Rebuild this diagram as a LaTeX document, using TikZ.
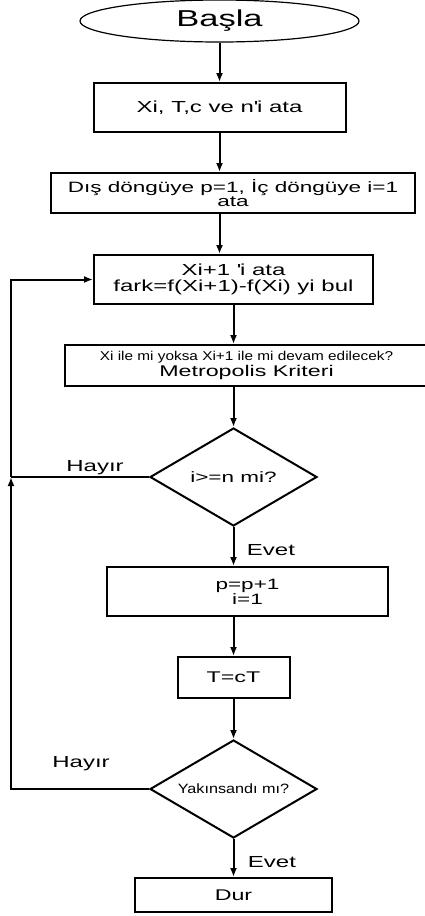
\documentclass[tikz,border=0pt]{standalone}
\usepackage{fontspec}
\setmainfont{Liberation Sans}[FakeStretch=1.5]
\newfontfamily\slimfont{Liberation Sans}[FakeStretch=1.2]
\usetikzlibrary{shapes.geometric}
\usetikzlibrary{arrows.meta}

\tikzset{
  box/.style={draw, line width=2pt, rectangle, inner sep=0pt, align=center},
  test/.style={draw, line width=2pt, diamond, aspect=1.7, inner sep=0pt,
    minimum width=167pt, minimum height=98pt},
  flow/.style={line width=2pt, -{Latex[length=9pt,width=7pt]}},
  answer/.style={font=\fontsize{16}{18}\selectfont},
}

\begin{document}
\begin{tikzpicture}[x=1pt, y=-1pt]
  \useasboundingbox (0,0) rectangle (425,916);

  \node[draw, ellipse, line width=1.2pt, minimum width=279pt, minimum height=42pt, inner sep=0pt, font=\fontsize{23}{25}\selectfont] (start) at (219.5,21) {Başla};
  \node[box, minimum width=252pt, minimum height=49pt, font=\fontsize{16}{18}\selectfont] (init) at (219.5,107.5) {Xi, T,c ve n\textquotesingle i ata};
  \node[box, minimum width=364pt, minimum height=40pt, font=\fontsize{15}{14}\selectfont] (loops) at (233,193) {Dış döngüye p=1, İç döngüye i=1\\ata};
  \node[box, minimum width=279pt, minimum height=49pt, font=\fontsize{16}{16.5}\selectfont] (newx) at (233.5,279.5) {Xi+1 \textquotesingle i ata\\fark=f(Xi+1)-f(Xi) yi bul};
  \node[box, minimum width=363pt, minimum height=41pt, font=\fontsize{15.5}{16}\selectfont] (metro) at (246.5,365.5) {{\slimfont\fontsize{12.8}{16}\selectfont Xi ile mi yoksa Xi+1 ile mi devam edilecek?}\\Metropolis Kriteri};
  \node[test, font=\fontsize{15}{17}\selectfont] (inner) at (233.5,477) {i>=n mi?};
  \node[box, minimum width=281pt, minimum height=49pt, font=\fontsize{15}{13}\selectfont] (incp) at (247.5,591.5) {p=p+1\\i=1};
  \node[box, minimum width=112pt, minimum height=41pt, font=\fontsize{15.5}{17}\selectfont] (cool) at (233.5,677.5) {T=cT};
  \node[test, font=\slimfont\fontsize{13.5}{15}\selectfont] (conv) at (233.5,789) {Yakınsandı mı?};
  \node[box, minimum width=197pt, minimum height=34pt, font=\fontsize{15.5}{17}\selectfont] (stop) at (233.5,895) {Dur};

  \coordinate (back) at (11,477);

  \draw[flow] (start) -- (init);
  \draw[flow] (init) -- (init |- loops.north);
  \draw[flow] (init |- loops.south) -- (init |- newx.north);
  \draw[flow] (newx) -- (newx |- metro.north);
  \draw[flow] (newx |- metro.south) -- (inner);
  \draw[flow] (inner) -- (inner |- incp.north);
  \draw[flow] (inner |- incp.south) -- (cool);
  \draw[flow] (cool) -- (conv);
  \draw[flow] (conv) -- (stop);

  \draw[line width=2pt] (inner.west) -- (back);
  \draw[flow] (conv.west) -| (back);
  \draw[flow] (back) |- (newx.west);

  \node[answer] (no1) at (95,468) {Hayır};
  \node[answer] (yes1) at (271,550) {Evet};
  \node[answer] (no2) at (81,764) {Hayır};
  \node[answer] (yes2) at (272,862) {Evet};
\end{tikzpicture}
\end{document}
